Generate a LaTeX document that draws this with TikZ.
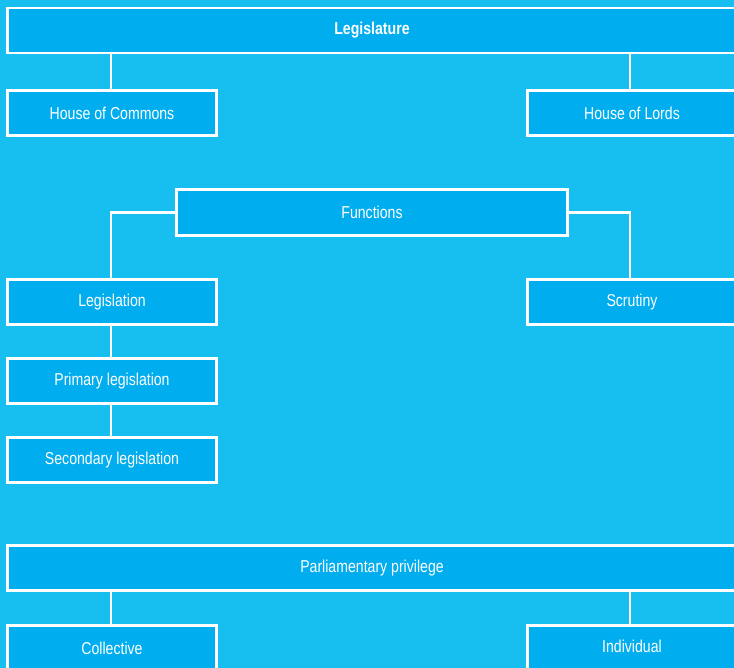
\documentclass[tikz,border=0pt]{standalone}
\usepackage{fontspec}
\setmainfont[FakeStretch=0.82]{Liberation Sans}
\definecolor{bgblue}{HTML}{17BFF1}
\definecolor{boxblue}{HTML}{00ADEE}
\begin{document}
\begin{tikzpicture}[x=1pt,y=-1pt,
  box/.style={draw=white, line width=2.5pt, fill=boxblue, text=white,
    font=\fontsize{17.2}{20}\selectfont, inner sep=0pt, minimum height=45pt},
  narrow/.style={box, minimum width=209pt},
  wide/.style={box, minimum width=729pt},
  link/.style={draw=white, line width=2.5pt}]
\fill[bgblue] (0,0) rectangle (734,668);
\useasboundingbox (0,0) rectangle (734,668);
\clip (0,0) rectangle (734,668);

% Institutions
\node[wide, font=\fontsize{17.2}{20}\selectfont\bfseries] (legis) at (372,30.5) {Legislature};
\node[narrow] (commons) at (112,113) {House of Commons};
\node[narrow] (lords) at (632,113) {House of Lords};
\draw[link] ([xshift=-1pt]commons.north) -- ([xshift=-1pt]commons.north |- legis.south);
\draw[link] ([xshift=-2pt]lords.north) -- ([xshift=-2pt]lords.north |- legis.south);

% Functions
\node[box, minimum width=391pt, minimum height=46pt] (func) at (372,212.5) {Functions};
\node[narrow] (legislation) at (112,302) {Legislation};
\node[narrow] (scrutiny) at (632,302) {Scrutiny};
\node[narrow] (primary) at (112,381) {Primary legislation};
\node[narrow] (secondary) at (112,460) {Secondary legislation};
\draw[link] (func.west) -| ([xshift=-1pt]legislation.north);
\draw[link] (func.east) -| ([xshift=-2pt]scrutiny.north);
\draw[link] ([xshift=-1pt]legislation.south) -- ([xshift=-1pt]primary.north);
\draw[link] ([xshift=-1pt]primary.south) -- ([xshift=-1pt]secondary.north);

% Privilege
\node[wide] (priv) at (372,568) {Parliamentary privilege};
\node[narrow] (coll) at (112,648) {Collective};
\node[narrow, text depth=4pt] (indiv) at (632,648) {Individual};
\draw[link] ([xshift=-1pt]coll.north) -- ([xshift=-1pt]coll.north |- priv.south);
\draw[link] ([xshift=-2pt]indiv.north) -- ([xshift=-2pt]indiv.north |- priv.south);
\end{tikzpicture}
\end{document}
